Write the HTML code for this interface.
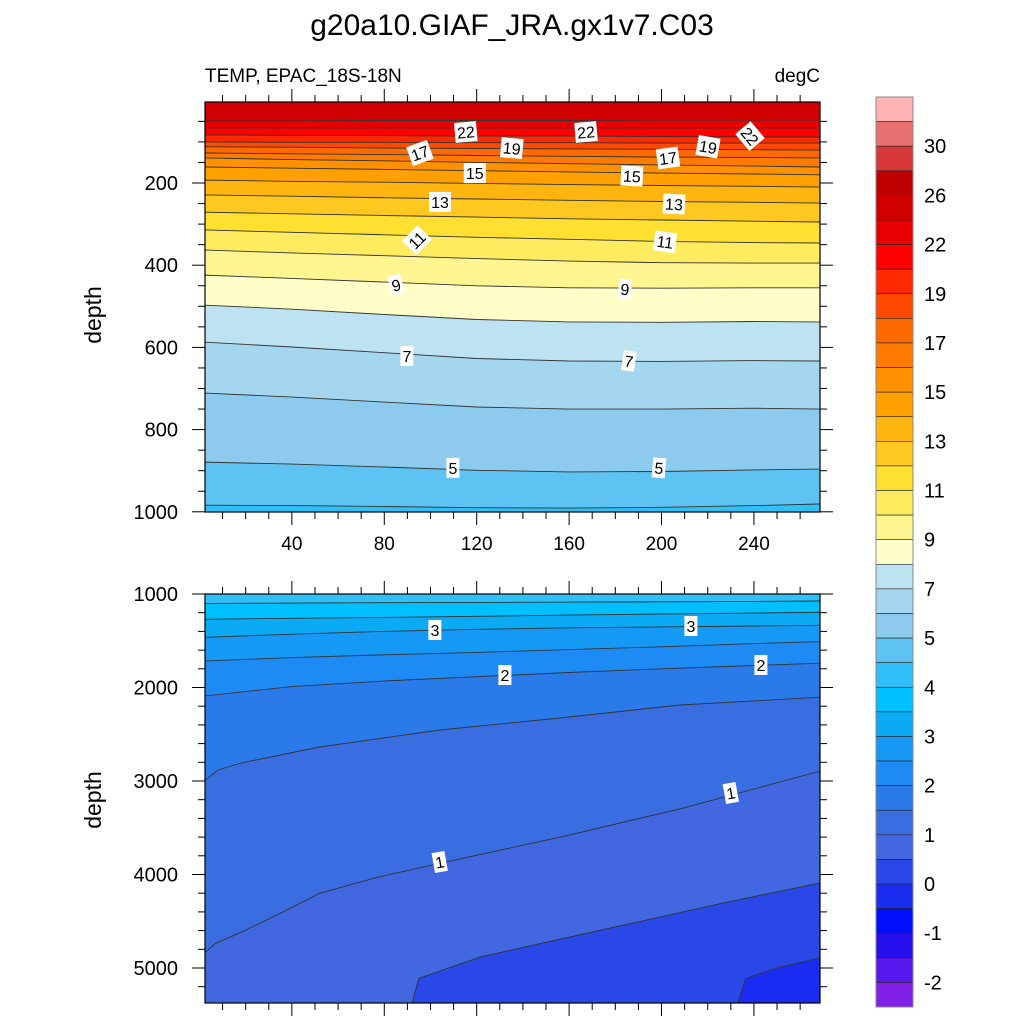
<!DOCTYPE html>
<html><head><meta charset="utf-8"><style>
html,body{margin:0;padding:0;background:#fff;}
svg{display:block;font-family:"Liberation Sans",sans-serif;}
</style></head><body>
<svg id="chart" width="1024" height="1024" viewBox="0 0 1024 1024" xmlns="http://www.w3.org/2000/svg">
<defs>
<clipPath id="clipTop"><rect x="205" y="102" width="615" height="410"/></clipPath>
<clipPath id="clipBot"><rect x="205" y="594" width="615" height="409"/></clipPath>
</defs>
<text x="512" y="35" font-size="30" text-anchor="middle">g20a10.GIAF_JRA.gx1v7.C03</text>
<text x="205" y="82" font-size="19">TEMP, EPAC_18S-18N</text>
<text x="820" y="82" font-size="19" text-anchor="end">degC</text>
<g id="topFill" clip-path="url(#clipTop)"></g>
<g id="botFill" clip-path="url(#clipBot)"></g>
<g id="axes"></g>
<g id="labels"></g>
<g id="cbar"></g>
<text transform="translate(101,315) rotate(-90)" font-size="23" text-anchor="middle">depth</text>
<text transform="translate(101,800) rotate(-90)" font-size="23" text-anchor="middle">depth</text>
</svg>
<script>
// ---- data ----
const xPts = [2, 40, 80, 120, 160, 200, 240, 268];
const topLevels = [24, 22, 20.5, 19, 18, 17, 16, 15, 14, 13, 12, 11, 10, 9, 8, 7, 6, 5, 4.5];
const topDepths = [
 [49,49,48,48,48,47,47,47],
 [66,66,66,66,66,66,66,66],
 [83,84,85,86,86,87,88,88],
 [100,101,101,102,102,103,103,103],
 [112,113,115,116,117,118,119,120],
 [127,129,131,133,135,137,138,139],
 [139,143,146,150,153,156,159,161],
 [161,164,167,170,173,176,178,180],
 [193,196,198,201,204,206,208,210],
 [229,232,236,239,242,245,247,249],
 [271,275,279,283,287,290,293,295],
 [314,320,326,332,337,342,345,346],
 [363,370,377,384,390,394,395,395],
 [424,432,441,450,455,456,455,455],
 [497,507,520,532,538,539,537,538],
 [587,599,613,627,633,634,632,633],
 [711,721,733,745,750,750,748,750],
 [879,884,891,899,903,902,898,896],
 [984,985,987,990,991,989,985,981]
];
const botLevels = [4, 3.5, 3, 2.5, 2, 1.5, 1, 0.5, 0];
const botX = [
 xPts, xPts, xPts, xPts, xPts,
 [2, 8, 18, 52, 104, 156, 208, 268],
 [2, 7, 17, 35, 52, 78, 104, 157, 209, 268],
 [92, 95, 122, 174, 226, 268],
 [233, 236.5, 252, 268]
];
const botDepths = [
 [1100,1097,1093,1090,1087,1083,1079,1075],
 [1271,1260,1250,1238,1226,1214,1204,1196],
 [1463,1430,1400,1378,1362,1352,1342,1335],
 [1717,1680,1650,1625,1595,1565,1530,1510],
 [2091,1990,1930,1885,1840,1800,1765,1741],
 [3000,2882,2807,2636,2455,2326,2187,2105],
 [4843,4736,4629,4415,4201,4023,3880,3596,3292,2900],
 [5374,5110,4879,4594,4308,4094],
 [5374,5110,4986,4896]
];
const bandBelow = {
 "24":"#E80000","22":"#FF0000","20.5":"#FF2800","19":"#FF4800","18":"#FF6A00","17":"#FF7A00",
 "16":"#FF9000","15":"#FFA000","14":"#FFB510","13":"#FFC820","12":"#FFE030","11":"#FFEB60",
 "10":"#FFF590","9":"#FFFDC8","8":"#BDE2F2","7":"#A5D6F0","6":"#8CCAEE","5":"#5EC3F2",
 "4.5":"#30C0F8","4":"#00BFFF","3.5":"#0AAAF5","3":"#1599F5","2.5":"#1E8BF5","2":"#2A7AEA",
 "1.5":"#3A6EE0","1":"#4168E0","0.5":"#2A48E8","0":"#1A2CF0"
};
const cbColors = ["#FFB3B3","#E87070","#D83838","#C00000","#D00000","#E80000","#FF0000","#FF2800",
 "#FF4800","#FF6A00","#FF7A00","#FF9000","#FFA000","#FFB510","#FFC820","#FFE030","#FFEB60","#FFF590",
 "#FFFDC8","#BDE2F2","#A5D6F0","#8CCAEE","#5EC3F2","#30C0F8","#00BFFF","#0AAAF5","#1599F5","#1E8BF5",
 "#2A7AEA","#3A6EE0","#4168E0","#2A48E8","#1A2CF0","#0010FF","#2810EE","#5A18F0","#8020E8"];
const cbLabels = ["30","26","22","19","17","15","13","11","9","7","5","4","3","2","1","0","-1","-2"];
const xTickLabels = [40, 80, 120, 160, 200, 240];
const topYTicks = [200, 400, 600, 800, 1000];
const botYTicks = [1000, 2000, 3000, 4000, 5000];
const topLabels = [
 [115.3,76,"22",-5],[167.3,76,"22",-5],[238.3,86,"22",50],[135.2,115,"19",5],[220.1,112,"19",10],
 [95.4,127,"17",-20],[202.8,139,"17",-8],[119.2,176,"15",0],[187.2,183,"15",3],[104.1,246,"13",0],
 [205.4,251,"13",3],[94.1,339,"11",-45],[201.5,343,"11",8],[85.1,448,"9",-15],[184.2,458,"9",5],
 [89.8,621,"7",0],[185.9,633,"7",8],[109.7,893,"5",0],[198.9,893,"5",5]
];
const botLabels = [
 [101.9,1385,"3",0],[212.7,1342,"3",0],[132.2,1866,"2",0],[243,1759,"2",0],[230,3128,"1",-10],[104,3866,"1",-10]
];
// ---- scales ----
const X0 = 2.4, X1 = 268.6, PX0 = 205, PX1 = 820;
const sx = v => PX0 + (v - X0) * (PX1 - PX0) / (X1 - X0);
const syTop = d => 100.8 + d * 0.411;
const syBot = d => 594 + (d - 1000) * 0.0935;
const NS = "http://www.w3.org/2000/svg";
function mk(tag, attrs, parent){const e=document.createElementNS(NS,tag);for(const k in attrs)e.setAttribute(k,attrs[k]);parent.appendChild(e);return e;}

function drawPanel(g, levels, xs, depths, sy, dmax, base){
  const r = mk('rect',{x:205,y:90,width:615,height:930,fill:base},g);
  
  
  levels.forEach((lv,i)=>{
    const X = Array.isArray(xs[0]) ? xs[i] : xs;
    const D = depths[i];
    const pts = X.map((x,j)=>sx(x).toFixed(1)+','+sy(D[j]).toFixed(1));
    const last = X[X.length-1], first = X[0];
    const ext = (last>=268?270:last), extF = (first<=2?0:first);
    const poly = [sx(extF).toFixed(1)+','+sy(D[0]).toFixed(1)].concat(pts,
      [sx(ext).toFixed(1)+','+sy(D[D.length-1]).toFixed(1), sx(ext).toFixed(1)+','+(sy(dmax)+20), sx(extF).toFixed(1)+','+(sy(dmax)+20)]);
    const p = mk('polygon',{points:poly.join(' '),fill:bandBelow[String(lv)]},g);
    
    
  });
  levels.forEach((lv,i)=>{
    const X = Array.isArray(xs[0]) ? xs[i] : xs;
    const D = depths[i];
    const first = X[0]<=2?0:X[0], last = X[X.length-1]>=268?270:X[X.length-1];
    const pts = [sx(first).toFixed(1)+','+sy(D[0]).toFixed(1)].concat(X.map((x,j)=>sx(x).toFixed(1)+','+sy(D[j]).toFixed(1)),[sx(last).toFixed(1)+','+sy(D[D.length-1]).toFixed(1)]);
    const l = mk('polyline',{points:pts.join(' '),fill:'none',stroke:'#333','stroke-width':0.9},g);
    
    
  });
}
drawPanel(document.getElementById('topFill'), topLevels, xPts, topDepths, syTop, 1000, '#D00000');
drawPanel(document.getElementById('botFill'), botLevels, botX, botDepths, syBot, 5374, '#30C0F8');

// ---- axes ----
const ax = document.getElementById('axes');
function frame(y0,y1,name){
  const f = mk('rect',{x:205,y:y0,width:615,height:y1-y0,fill:'none',stroke:'#000','stroke-width':1.2},ax);
  
  
}
frame(102,512,'upper-panel-frame'); frame(594,1003,'lower-panel-frame');
function xTicks(yb,yt,labels){
  for(let v=10; v<=260; v+=10){
    const major = v%40===0, len = major?13:7, px = sx(v);
    mk('line',{x1:px,x2:px,y1:yb,y2:yb+len,stroke:'#000','stroke-width':1},ax);
    mk('line',{x1:px,x2:px,y1:yt,y2:yt-len,stroke:'#000','stroke-width':1},ax);
  }
  if(labels) xTickLabels.forEach(v=>{
    const t = mk('text',{x:sx(v),y:yb+38,'font-size':19,'text-anchor':'middle'},ax);
    t.textContent = v;
    
    
  });
}
xTicks(512,102,true); xTicks(1003,594,false);
function yTicks(sy, from, to, step, majorStep, labels){
  for(let d=from; d<=to; d+=step){
    const major = d%majorStep===0, len = major?13:7, py = sy(d);
    mk('line',{x1:205,x2:205-len,y1:py,y2:py,stroke:'#000','stroke-width':1},ax);
    mk('line',{x1:820,x2:820+len,y1:py,y2:py,stroke:'#000','stroke-width':1},ax);
  }
  labels.forEach(v=>{
    const t = mk('text',{x:178,y:sy(v)+7,'font-size':20,'text-anchor':'end'},ax);
    t.textContent = v;
    
    
  });
}
yTicks(syTop, 50, 1000, 50, 200, topYTicks);
yTicks(syBot, 1000, 5200, 200, 1000, botYTicks);

// ---- contour labels ----
const lg = document.getElementById('labels');
function label(x,y,txt,rot){
  const g = mk('g',{transform:`translate(${x.toFixed(1)},${y.toFixed(1)}) rotate(${rot})`},lg);
  
  
  const w = txt.length>1?22:13;
  mk('rect',{x:-w/2,y:-10,width:w,height:20,fill:'#fff'},g);
  const t = mk('text',{x:0,y:6,'font-size':16,'text-anchor':'middle'},g);
  t.textContent = txt;
}
topLabels.forEach(l=>label(sx(l[0]),syTop(l[1]),l[2],l[3]));
botLabels.forEach(l=>label(sx(l[0]),syBot(l[1]),l[2],l[3]));

// ---- colorbar ----
const cb = document.getElementById('cbar');
const cbTop = 97, cbBot = 1007, bh = (cbBot-cbTop)/cbColors.length;
cbColors.forEach((c,i)=>{
  const r = mk('rect',{x:876,y:cbTop+i*bh,width:37,height:bh,fill:c,stroke:'#222','stroke-width':0.6},cb);
  
  
});
mk('rect',{x:876,y:cbTop,width:37,height:cbBot-cbTop,fill:'none',stroke:'#888','stroke-width':1},cb);
cbLabels.forEach((s,i)=>{
  const t = mk('text',{x:924,y:cbTop+(2+2*i)*bh+7,'font-size':20},cb);
  t.textContent = s;
  
  
});
</script>
</body></html>
